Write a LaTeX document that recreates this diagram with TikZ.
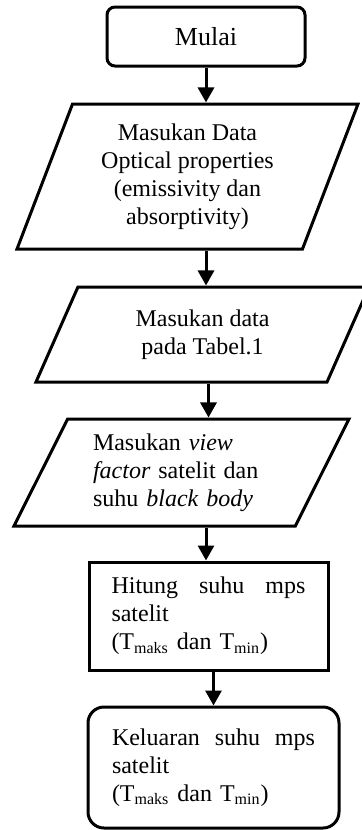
\documentclass[tikz,border=0pt]{standalone}
\usepackage{fontspec}
\setmainfont{Liberation Serif}
\usetikzlibrary{shapes.geometric,arrows.meta}

\begin{document}
\begin{tikzpicture}[x=0.5pt,y=-0.5pt]
\tikzstyle{every node}=[draw,line width=1.5pt,font=\fontsize{12}{14}\selectfont,inner sep=2pt]
\tikzstyle{terminal}=[rectangle,rounded corners=4pt,minimum width=99pt,minimum height=29.5pt,font=\fontsize{13}{15}\selectfont]
\tikzstyle{io}=[trapezium,trapezium stretches body,align=center]
\tikzstyle{process}=[rectangle,align=left]
\tikzstyle{arr}=[line width=1.5pt,-{Triangle[width=8pt,length=7.5pt]}]
\useasboundingbox (0,0) rectangle (361,830);
\node[terminal] (mulai) at (206,36.5) {Mulai};
\node[io,trapezium left angle=64,trapezium right angle=116,minimum width=170.5pt,minimum height=72.5pt] (optical) at (187.5,176.5)
  {Masukan Data\\Optical properties\\(emissivity dan\\absorptivity)};
\node[io,trapezium left angle=54,trapezium right angle=126,minimum width=166.5pt,minimum height=47.5pt] (tabel) at (202.5,334.5)
  {Masukan data\\pada Tabel.1};
\node[io,trapezium left angle=58,trapezium right angle=122,minimum width=167.5pt,minimum height=53.5pt,text width=88.5pt,align=left] (view) at (181.5,472.5)
  {Masukan \textit{view}\\\textit{factor} satelit dan\\suhu \textit{black body}};
\node[process,minimum width=119.5pt,minimum height=54pt,text width=97pt] (hitung) at (208.5,616)
  {Hitung\hfill suhu\hfill mps\\satelit\\(T\textsubscript{maks} dan T\textsubscript{min})};
\node[process,rounded corners=8pt,minimum width=125.5pt,minimum height=60.5pt,text width=101.5pt] (keluaran) at (213.5,767.5)
  {Keluaran\hfill suhu\hfill mps\\satelit\\(T\textsubscript{maks} dan T\textsubscript{min})};
% alur
\draw[arr] (mulai.south) -- (mulai.south |- optical.north);
\draw[arr] (optical.south -| mulai) -- (tabel.north -| mulai);
\draw[arr] (tabel.south -| hitung) -- (view.north -| hitung);
\draw[arr] (view.south -| mulai) -- (hitung.north -| mulai);
\draw[arr] (hitung.south -| keluaran) -- (keluaran.north);
\end{tikzpicture}
\end{document}
